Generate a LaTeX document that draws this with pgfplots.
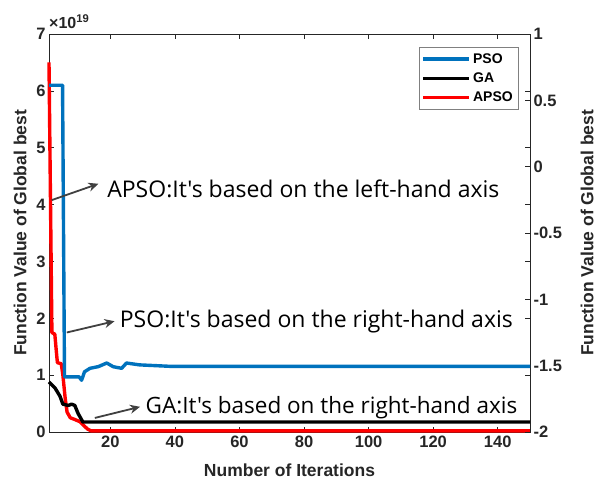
\documentclass[border=0pt]{standalone}
\usepackage{fontspec}
\setmainfont{Liberation Sans}
\newfontfamily\annfont{Open Sans}
\usepackage{pgfplots}
\pgfplotsset{compat=1.18}
\usetikzlibrary{arrows.meta}
\definecolor{labgray}{RGB}{38,38,38}
\definecolor{psoblue}{RGB}{0,114,189}
\definecolor{arrgray}{RGB}{64,64,64}
\begin{document}
\begin{tikzpicture}
\useasboundingbox (0,0) rectangle (597pt,481pt);
\begin{axis}[
  at={(49pt,49pt)}, anchor=south west, scale only axis,
  width=481pt, height=398pt,
  xmin=1, xmax=150, ymin=0, ymax=7,
  xtick={20,40,...,140}, ytick={0,1,...,7},
  tick align=inside, tick pos=both,
  xticklabel pos=lower, yticklabel pos=left,
  major tick length=5pt,
  scaled y ticks=false,
  /pgf/number format/assume math mode=true,
  tick label style={font=\bfseries\fontsize{16.5}{16.5}\selectfont, color=labgray},
  axis line style={color=labgray, line width=0.6pt},
  every tick/.style={color=labgray, line width=0.6pt},
  xlabel={Number of Iterations},
  ylabel={Function Value of Global best},
  label style={font=\bfseries\fontsize{17.5}{17.5}\selectfont, color=labgray},
  xlabel style={at={(axis description cs:0.5,-0.095)}, anchor=center},
  ylabel style={at={(axis description cs:-0.06,0.5)}, anchor=center},
  clip=false,
]
\addplot[red, line width=3.4pt, line join=round] coordinates {
(1,6.5) (1.9,1.75) (2.8,1.72) (3.3,1.4) (3.6,1.22) (4.8,1.2) (5.3,1.0) (6,0.6) (6.6,0.35) (7.6,0.25) (9,0.22) (10.6,0.18) (12,0.1) (13,0.05) (14,0.02) (150,0.02)
};
\node[anchor=south west, inner sep=0pt, font=\bfseries\fontsize{16}{16}\selectfont, color=labgray] at (axis description cs:0,1.012) {×10\textsuperscript{19}};
\end{axis}
\begin{axis}[
  at={(49pt,49pt)}, anchor=south west, scale only axis,
  width=481pt, height=398pt,
  xmin=1, xmax=150, ymin=-2, ymax=1,
  ytick={-2,-1.5,...,1},
  axis y line*=right, axis x line=none,
  tick align=inside,
  major tick length=5pt,
  /pgf/number format/assume math mode=true,
  tick label style={font=\bfseries\fontsize{16.5}{16.5}\selectfont, color=labgray},
  axis line style={color=labgray, line width=0.6pt},
  every tick/.style={color=labgray, line width=0.6pt},
  ylabel={Function Value of Global best},
  label style={font=\bfseries\fontsize{17.5}{17.5}\selectfont, color=labgray},
  ylabel style={at={(axis description cs:1.1185,0.5)}, anchor=center},
  legend style={at={(axis description cs:0.975,0.967)}, anchor=north east,
    draw=gray, fill=white, font=\bfseries\fontsize{14}{15}\selectfont,
    row sep=4pt, inner ysep=4pt, inner xsep=3pt},
  legend cell align=left,
  legend image code/.code={\draw[#1] (0pt,0pt) -- (46pt,0pt);},
  legend image post style={line width=3.4pt},
  clip=false,
]
\addplot[psoblue, line width=3.4pt, line join=round] coordinates {
(1,0.614) (5.2,0.614) (5.8,-1.584) (10.3,-1.584) (11.1,-1.61) (12,-1.546) (13.7,-1.52) (16.3,-1.507) (18.9,-1.48) (20.9,-1.508) (23.5,-1.52) (25,-1.48) (29,-1.494) (38.5,-1.505) (150,-1.505)
};
\addlegendentry{PSO}
\addplot[black, line width=3.4pt, line join=round] coordinates {
(1,-1.623) (2.9,-1.67) (4.4,-1.73) (5.3,-1.79) (7,-1.80) (8,-1.79) (9,-1.80) (10,-1.86) (11.5,-1.925) (150,-1.925)
};
\addlegendentry{GA}
\addlegendimage{red, line width=3.4pt}
\addlegendentry{APSO}
\draw[arrgray, line width=1.8pt, -{Stealth[length=10pt,width=9pt]}] (axis cs:1.85,-0.252) -- (axis cs:16.3,-0.129);
\node[anchor=west, inner sep=0pt, font=\annfont\fontsize{23}{23}\selectfont] at (axis cs:19.0,-0.165) {APSO:It's based on the left-hand axis};
\draw[arrgray, line width=1.8pt, -{Stealth[length=10pt,width=9pt]}] (axis cs:6.5,-1.250) -- (axis cs:21.3,-1.165);
\node[anchor=west, inner sep=0pt, font=\annfont\fontsize{23}{23}\selectfont] at (axis cs:22.9,-1.165) {PSO:It's based on the right-hand axis};
\draw[arrgray, line width=1.8pt, -{Stealth[length=10pt,width=9pt]}] (axis cs:15.2,-1.894) -- (axis cs:29.2,-1.810);
\node[anchor=west, inner sep=0pt, font=\annfont\fontsize{22.5}{22.5}\selectfont] at (axis cs:30.9,-1.817) {GA:It's based on the right-hand axis};
\end{axis}
\end{tikzpicture}
\end{document}
